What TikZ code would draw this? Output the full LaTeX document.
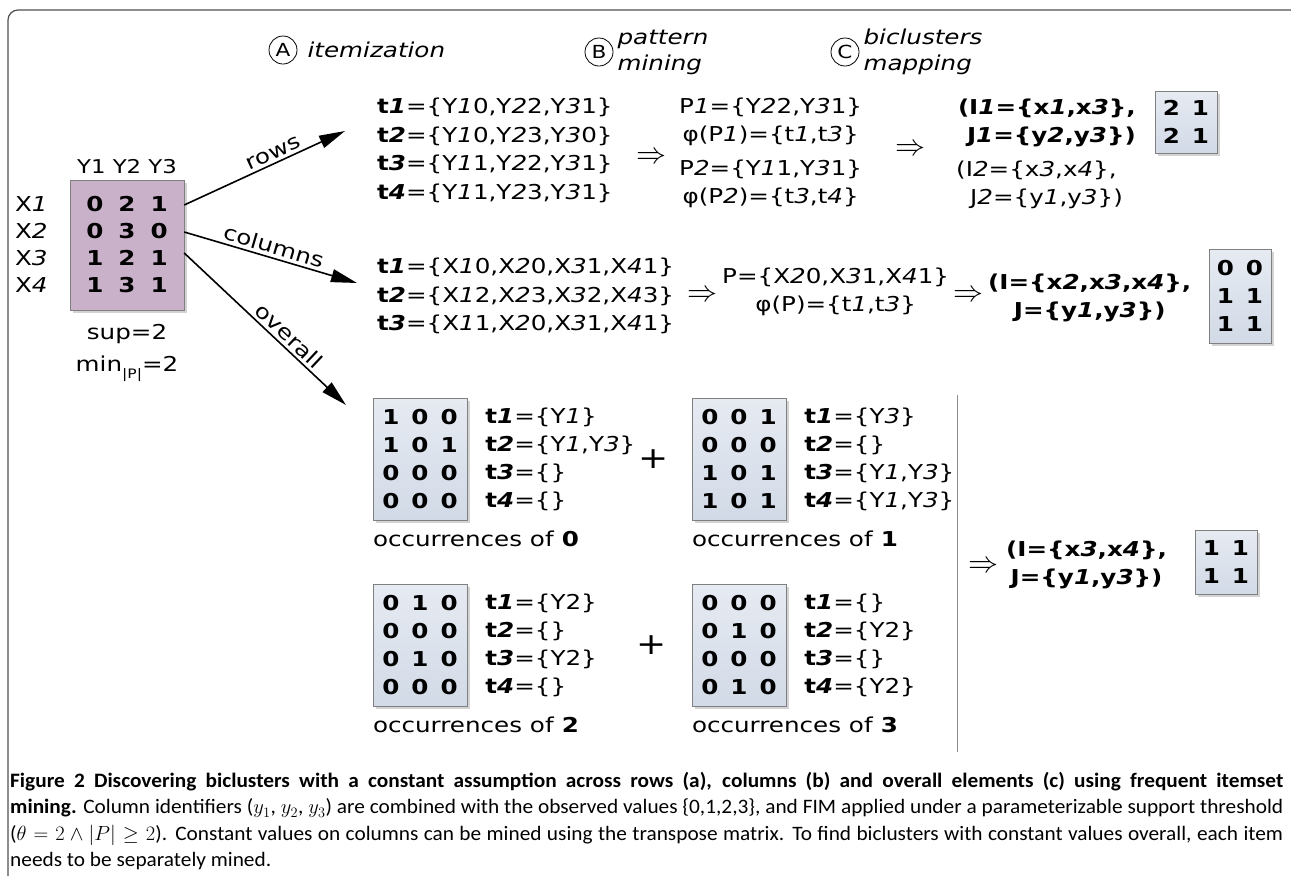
\RequirePackage{fix-cm}
\documentclass[tikz,border=0pt]{standalone}
\usepackage{fontspec}
\setmainfont[FakeStretch=1.2]{DejaVu Sans}
\newfontfamily\capfont[FakeStretch=1.04]{Carlito}
\usetikzlibrary{positioning,arrows.meta,shadows}
\definecolor{matmauve}{RGB}{201,178,201}
\definecolor{matblue}{RGB}{210,218,231}
\definecolor{framegray}{RGB}{80,80,80}
\newcommand\idx[1]{\textit{#1}}
\newcommand\trans[1]{\textbf{t\textit{#1}}}
\newcommand\gap{\hspace{12pt}}

\begin{document}
\begin{tikzpicture}[x=1pt,y=-1pt,font=\fontsize{20.5}{28.5}\selectfont]
\tikzstyle{matbox}=[draw=black!50,top color=matblue!55!white,bottom color=matblue,
  align=center,inner sep=3pt,font=\fontsize{20.5}{28}\selectfont\bfseries,
  drop shadow={shadow xshift=2.5pt,shadow yshift=-3pt,opacity=0.35}]
\tikzstyle{txt}=[align=left,inner sep=0pt]
\tikzstyle{impl}=[inner sep=0pt,font=\fontsize{30}{30}\selectfont]
\tikzstyle{arr}=[-{Triangle[length=26pt,width=13pt]},line width=1.6pt]
\tikzstyle{stepmark}=[draw,circle,inner sep=0pt,minimum size=28pt,line width=0.8pt,
  font=\fontsize{18}{18}\selectfont]
\tikzstyle{heading}=[txt,font=\fontsize{20.5}{26}\selectfont\itshape]
\tikzstyle{occlist}=[txt,font=\fontsize{20.5}{28}\selectfont]

\useasboundingbox (0,0) rectangle (1291,876);
%% frame round the figure
\draw[framegray,line width=1.2pt,rounded corners=10pt] (8,876) -- (8,10) -- (1291,10);

%% the three steps
\node[stepmark] (stepA) at (283,50) {A};
\node[heading,right=10pt of stepA] (itemiz) {itemization};
\node[stepmark] (stepB) at (599,52) {B};
\node[heading,right=4pt of stepB] (patmin) {pattern\\mining};
\node[stepmark] (stepC) at (845,52) {C};
\node[heading,right=4pt of stepC] (bicmap) {biclusters\\mapping};

%% input matrix
\node[matbox,top color=matmauve,bottom color=matmauve,minimum width=114pt,minimum height=130pt,
  font=\fontsize{20.5}{27}\selectfont\bfseries] (mat) at (127,245)
  {0\hspace{15pt}2\hspace{15pt}1\\0\hspace{15pt}3\hspace{15pt}0\\
   1\hspace{15pt}2\hspace{15pt}1\\1\hspace{15pt}3\hspace{15pt}1};
\node[txt,left=22pt of mat,font=\fontsize{20.5}{27}\selectfont] (xlab)
  {X\idx{1}\\X\idx{2}\\X\idx{3}\\X\idx{4}};
\node[above=3pt of mat,font=\fontsize{19}{20}\selectfont] (ylab) {Y1 Y2 Y3};
\node[below=14pt of mat,align=center,inner sep=0pt,font=\fontsize{20.5}{32}\selectfont] (supmin)
  {sup=2\\min\raisebox{-7pt}{\fontsize{13}{13}\selectfont |P|}=2};

%% the three ways
\coordinate (rowsend) at (345,131);
\coordinate (colsend) at (357,283);
\coordinate (allend) at (346,405);
\draw[arr] ([yshift=40pt]mat.east) -- node[above,sloped,pos=0.58,inner sep=3pt] {rows} (rowsend);
\draw[arr] ([yshift=13pt]mat.east) -- node[above,sloped,inner sep=3pt] {columns} (colsend);
\draw[arr] ([yshift=-8pt]mat.east) -- node[above,sloped,pos=0.6,inner sep=3pt] {overall} (allend);

%% rows
\node[txt,anchor=west] (rowsT) at (377,150.5)
  {\trans{1}=\{Y\idx{1}0,Y\idx{2}2,Y\idx{3}1\}\\
   \trans{2}=\{Y\idx{1}0,Y\idx{2}3,Y\idx{3}0\}\\
   \trans{3}=\{Y\idx{1}1,Y\idx{2}2,Y\idx{3}1\}\\
   \trans{4}=\{Y\idx{1}1,Y\idx{2}3,Y\idx{3}1\}};
\node[impl] (imp1) at (651,158) {$\Rightarrow$};
\node[txt,align=center,anchor=west] (rowsP) at (679,153)
  {P\idx{1}=\{Y\idx{2}2,Y\idx{3}1\}\\
   φ(P\idx{1})=\{t\idx{1},t\idx{3}\}\\[5pt]
   P\idx{2}=\{Y\idx{1}1,Y\idx{3}1\}\\
   φ(P\idx{2})=\{t\idx{3},t\idx{4}\}};
\node[impl] (imp2) at (910,150) {$\Rightarrow$};
\node[txt,align=right,anchor=east,font=\fontsize{20.5}{28.5}\selectfont\bfseries] (rowsB1) at (1136,123)
  {(I\idx{1}=\{x\idx{1},x\idx{3}\},\\J\idx{1}=\{y\idx{2},y\idx{3}\})};
\node[txt,anchor=west] (rowsB2) at (956,185)
  {(I\idx{2}=\{x\idx{3},x\idx{4}\},\\\hspace{14pt}J\idx{2}=\{y\idx{1},y\idx{3}\})};
\node[matbox,minimum width=62pt,minimum height=62pt] (rowsM) at (1186,122)
  {2\gap1\\2\gap1};

%% columns
\node[txt,anchor=west] (colsT) at (377,296)
  {\trans{1}=\{X\idx{1}0,X\idx{2}0,X\idx{3}1,X\idx{4}1\}\\
   \trans{2}=\{X\idx{1}2,X\idx{2}3,X\idx{3}2,X\idx{4}3\}\\
   \trans{3}=\{X\idx{1}1,X\idx{2}0,X\idx{3}1,X\idx{4}1\}};
\node[impl] (imp3) at (702,296) {$\Rightarrow$};
\node[txt,align=center,anchor=west] (colsP) at (722,292)
  {P=\{X\idx{2}0,X\idx{3}1,X\idx{4}1\}\\φ(P)=\{t\idx{1},t\idx{3}\}};
\node[impl] (imp4) at (968,296) {$\Rightarrow$};
\node[txt,align=center,anchor=west,font=\fontsize{20.5}{28.5}\selectfont\bfseries] (colsB) at (988,298)
  {(I=\{x\idx{2},x\idx{3},x\idx{4}\},\\J=\{y\idx{1},y\idx{3}\})};
\node[matbox,minimum width=62pt,minimum height=94pt] (colsM) at (1240,296)
  {0\gap0\\1\gap1\\1\gap1};

%% overall, one item at a time
\node[matbox,minimum width=94pt,minimum height=122pt] (occ0) at (420,459)
  {1\gap0\gap0\\1\gap0\gap1\\0\gap0\gap0\\0\gap0\gap0};
\node[occlist,right=18pt of occ0] (occ0T)
  {\trans{1}=\{Y\idx{1}\}\\\trans{2}=\{Y\idx{1},Y\idx{3}\}\\\trans{3}=\{\}\\\trans{4}=\{\}};
\node[txt,anchor=north west] (occ0L) at ([yshift=-11pt]occ0.south west)
  {occurrences of \textbf{0}};
\node[font=\fontsize{30}{30}\selectfont,inner sep=0pt] (plus1) at (654,459) {+};

\node[matbox,minimum width=94pt,minimum height=122pt] (occ1) at (739,459)
  {0\gap0\gap1\\0\gap0\gap0\\1\gap0\gap1\\1\gap0\gap1};
\node[occlist,right=18pt of occ1] (occ1T)
  {\trans{1}=\{Y\idx{3}\}\\\trans{2}=\{\}\\\trans{3}=\{Y\idx{1},Y\idx{3}\}\\\trans{4}=\{Y\idx{1},Y\idx{3}\}};
\node[txt,anchor=north west] (occ1L) at ([yshift=-11pt]occ1.south west)
  {occurrences of \textbf{1}};

\node[matbox,minimum width=94pt,minimum height=122pt] (occ2) at (420,645)
  {0\gap1\gap0\\0\gap0\gap0\\0\gap1\gap0\\0\gap0\gap0};
\node[occlist,right=18pt of occ2] (occ2T)
  {\trans{1}=\{Y2\}\\\trans{2}=\{\}\\\trans{3}=\{Y2\}\\\trans{4}=\{\}};
\node[txt,anchor=north west] (occ2L) at ([yshift=-11pt]occ2.south west)
  {occurrences of \textbf{2}};
\node[font=\fontsize{30}{30}\selectfont,inner sep=0pt] (plus2) at (652,645) {+};

\node[matbox,minimum width=94pt,minimum height=122pt] (occ3) at (739,645)
  {0\gap0\gap0\\0\gap1\gap0\\0\gap0\gap0\\0\gap1\gap0};
\node[occlist,right=18pt of occ3] (occ3T)
  {\trans{1}=\{\}\\\trans{2}=\{Y2\}\\\trans{3}=\{\}\\\trans{4}=\{Y2\}};
\node[txt,anchor=north west] (occ3L) at ([yshift=-11pt]occ3.south west)
  {occurrences of \textbf{3}};

\draw[black!45,line width=1pt] (957,395) -- (957,752);
\node[impl] (imp5) at (983,567) {$\Rightarrow$};
\node[txt,align=center,anchor=west,font=\fontsize{20.5}{28.5}\selectfont\bfseries] (allB) at (1006,565)
  {(I=\{x\idx{3},x\idx{4}\},\\J=\{y\idx{1},y\idx{3}\})};
\node[matbox,minimum width=62pt,minimum height=64pt] (allM) at (1226,562)
  {1\gap1\\1\gap1};

%% caption
\node[txt,anchor=north west,font=\capfont\fontsize{20.5}{26.5}\selectfont] (caption) at (10,772)
  {\makebox[1273pt][s]{\textbf{Figure 2 Discovering biclusters with a constant assumption across rows (a), columns (b) and overall elements (c) using frequent itemset}}\\
   \makebox[1273pt][s]{\textbf{mining.} Column identifiers ($y_1$, $y_2$, $y_3$) are combined with the observed values \{0,1,2,3\}, and FIM applied under a parameterizable support threshold}\\
   \makebox[1273pt][s]{($\theta = 2 \wedge |P| \geq 2$). Constant values on columns can be mined using the transpose matrix. To find biclusters with constant values overall, each item}\\
   needs to be separately mined.};
\end{tikzpicture}
\end{document}
